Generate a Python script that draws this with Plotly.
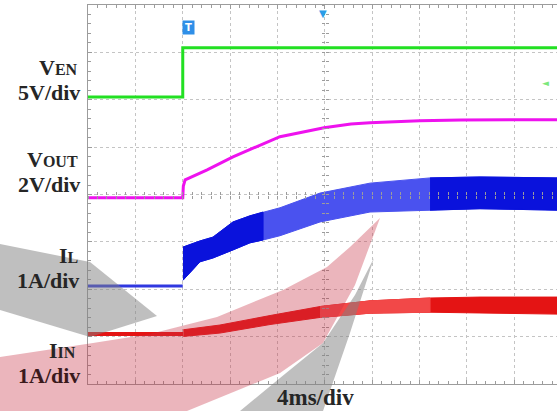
import plotly.graph_objects as go

# ---------------- data (time in ms, values in V / A) ----------------
VEN_SCALE, VEN_OFFSET = 5.0, 6.06      # V/div, screen position of 0 V (div)
VOUT_SCALE, VOUT_OFFSET = 2.0, 3.93
IL_SCALE, IL_OFFSET = 1.0, 2.07
IIN_SCALE, IIN_OFFSET = 1.0, 1.055

t_ven = [0, 8.0, 8.0, 39.6]
ven = [0, 0, 5.2, 5.2]

t_vout = [0, 8.0, 8.05, 8.2, 10.06, 12.24, 16.21, 17.9, 19.93, 22.2, 23.81, 28.0, 31.5, 39.6]
vout = [0, 0, 0.5, 0.76, 1.18, 1.73, 2.58, 2.74, 2.96, 3.12, 3.17, 3.25, 3.29, 3.30]

t_il_pre = [0, 8.0]
il_pre = [0, 0]
t_il = [8.02, 9.46, 10.55, 12.24, 13.68, 14.78, 16.21, 19.59, 23.81, 28.88, 33.10, 39.6]
il_top = [0.82, 0.95, 1.03, 1.35, 1.48, 1.56, 1.65, 1.96, 2.17, 2.28, 2.30, 2.28]
il_bot = [0.12, 0.51, 0.59, 0.76, 0.91, 0.97, 1.06, 1.35, 1.56, 1.60, 1.63, 1.60]
IL_DARK_ZONES = [(8.0, 14.78), (28.88, 39.6)]

t_iin_pre = [0, 8.05]
iin_pre = [0, 0]
t_iin = [8.05, 11.14, 15.37, 19.59, 23.81, 28.88, 33.10, 39.6]
iin_top = [0.09, 0.19, 0.39, 0.58, 0.70, 0.76, 0.78, 0.78]
iin_bot = [-0.05, 0.02, 0.20, 0.35, 0.44, 0.46, 0.44, 0.42]
IIN_LIGHT_ZONE = (19.59, 28.88)

T_END = 39.6
N_DIV_Y = 8

# ---------------- helpers ----------------
W, H = 557, 411
ML, MR, MT, MB = 88, 0, 5, 27
PW, PH = W - ML - MR, H - MT - MB


def pp(x, y):
    """pixel -> paper coordinates"""
    return (x - ML) / PW, (H - MB - y) / PH


def scr(vals, scale, offset):
    return [v / scale + offset for v in vals]


def band(t, top, bot, scale, offset, color, name):
    xs = list(t) + list(t)[::-1]
    ys = scr(top, scale, offset) + scr(bot, scale, offset)[::-1]
    return go.Scatter(x=xs, y=ys, mode="lines", fill="toself", fillcolor=color,
                      line=dict(color=color, width=1), hoverinfo="skip", name=name,
                      showlegend=False)


def zone(t, top, bot, lo, hi):
    idx = [i for i, tt in enumerate(t) if lo - 1e-9 <= tt <= hi + 1e-9]
    return [t[i] for i in idx], [top[i] for i in idx], [bot[i] for i in idx]


fig = go.Figure()

GREEN = "#22e022"
MAGENTA = "#ee12ee"
BLUE_L = "#4a52ef"
BLUE_D = "#0a12dc"
RED_D = "#e41414"
RED_L = "#f24848"

# V_EN
fig.add_trace(go.Scatter(x=t_ven, y=scr(ven, VEN_SCALE, VEN_OFFSET), mode="lines",
                         line=dict(color=GREEN, width=3), showlegend=False))
# V_OUT
fig.add_trace(go.Scatter(x=t_vout, y=scr(vout, VOUT_SCALE, VOUT_OFFSET), mode="lines",
                         line=dict(color=MAGENTA, width=3), showlegend=False))
# I_L
fig.add_trace(go.Scatter(x=t_il_pre, y=scr(il_pre, IL_SCALE, IL_OFFSET), mode="lines",
                         line=dict(color="#3038e0", width=3), showlegend=False))
fig.add_trace(band(t_il, il_top, il_bot, IL_SCALE, IL_OFFSET, BLUE_L, "IL"))
for lo, hi in IL_DARK_ZONES:
    zt, ztop, zbot = zone(t_il, il_top, il_bot, lo, hi)
    fig.add_trace(band(zt, ztop, zbot, IL_SCALE, IL_OFFSET, BLUE_D, "IL"))
# I_IN
fig.add_trace(go.Scatter(x=t_iin_pre, y=scr(iin_pre, IIN_SCALE, IIN_OFFSET), mode="lines",
                         line=dict(color=RED_D, width=4), showlegend=False))
fig.add_trace(band(t_iin, iin_top, iin_bot, IIN_SCALE, IIN_OFFSET, RED_D, "IIN"))
zt, ztop, zbot = zone(t_iin, iin_top, iin_bot, *IIN_LIGHT_ZONE)
fig.add_trace(band(zt, ztop, zbot, IIN_SCALE, IIN_OFFSET, RED_L, "IIN"))

# invisible traces for centre cross-hair tick axes
for k in (2, 3):
    fig.add_trace(go.Scatter(x=[None], y=[None], xaxis=f"x{k}", yaxis=f"y{k}",
                             showlegend=False, hoverinfo="skip"))

GRID = "#c4c4c4"
LINE = "#9c9c9c"
axis_common = dict(showticklabels=False, zeroline=False, fixedrange=True)

fig.update_layout(
    width=W, height=H, margin=dict(l=ML, r=MR, t=MT, b=MB),
    paper_bgcolor="white", plot_bgcolor="white", showlegend=False,
    xaxis=dict(range=[0, T_END], dtick=4, tick0=0, showgrid=True, gridcolor=GRID,
               griddash="dot", gridwidth=1, showline=True, linecolor=LINE, linewidth=1,
               mirror="allticks", ticks="inside", ticklen=4, tickcolor=LINE,
               minor=dict(dtick=0.8, tick0=0, ticks="inside", ticklen=3, tickcolor=LINE,
                          showgrid=False), **axis_common),
    yaxis=dict(range=[0, N_DIV_Y], dtick=1, tick0=0, showgrid=True, gridcolor=GRID,
               griddash="dot", gridwidth=1, showline=True, linecolor=LINE, linewidth=1,
               ticks="inside", ticklen=4, tickcolor=LINE,
               minor=dict(dtick=0.2, tick0=0, ticks="inside", ticklen=3, tickcolor=LINE,
                          showgrid=False), **axis_common),
    xaxis2=dict(overlaying="x", matches="x", anchor="free", position=0.5, showgrid=False,
                showline=False, ticks="outside", ticklen=3, tickcolor=LINE, dtick=0.8,
                tick0=0, **axis_common),
    xaxis3=dict(overlaying="x", matches="x", anchor="free", position=0.5, showgrid=False,
                showline=False, ticks="inside", ticklen=3, tickcolor=LINE, dtick=0.8,
                tick0=0, **axis_common),
    yaxis2=dict(overlaying="y", matches="y", anchor="free", position=20 / T_END,
                showgrid=False, showline=False, ticks="outside", ticklen=3, tickcolor=LINE,
                dtick=0.2, tick0=0, **axis_common),
    yaxis3=dict(overlaying="y", matches="y", anchor="free", position=20 / T_END,
                showgrid=False, showline=False, ticks="inside", ticklen=3, tickcolor=LINE,
                dtick=0.2, tick0=0, **axis_common),
)

# ---------------- watermark (semi-transparent logo swooshes) ----------------
def poly_path(pts):
    cs = [pp(x, y) for x, y in pts]
    return "M " + " L ".join(f"{a:.4f},{b:.4f}" for a, b in cs) + " Z"


PINK = "rgba(200,50,70,0.36)"
GREY = "rgba(128,128,128,0.50)"
wm = [
    ([(0, 244), (90, 262), (157, 316), (90, 337), (0, 310)], GREY),
    ([(0, 357), (93, 343), (150, 334), (217, 317), (283, 290), (327, 267), (350, 247),
      (380, 218), (355, 285), (323, 343), (280, 373), (187, 411), (0, 411)], PINK),
    ([(374, 258), (350, 333), (323, 411), (240, 411), (280, 378), (323, 343), (355, 295)], GREY),
]
for pts, col in wm:
    fig.add_shape(type="path", path=poly_path(pts), xref="paper", yref="paper",
                  fillcolor=col, line=dict(width=0), layer="above")

# ---------------- labels ----------------
FONT = "Liberation Serif, Times New Roman, serif"
TXT = "#262626"
SUBS = "font-size:16px"


def label(text, x_right, baseline, size=22, color=TXT, anchor="right"):
    x, y = pp(x_right, baseline - 0.33 * size)
    fig.add_annotation(text=text, x=x, y=y, xref="paper", yref="paper", showarrow=False,
                       xanchor=anchor, yanchor="middle",
                       font=dict(family=FONT, size=size, color=color))


label(f"<b>V<span style='{SUBS}'>EN</span></b>", 80, 75)
label("<b>5V/div</b>", 82, 100)
label(f"<b>V<span style='{SUBS}'>OUT</span></b>", 80, 167)
label("<b>2V/div</b>", 82, 192)
label(f"<b>I<span style='{SUBS}'>L</span></b>", 80, 263)
label("<b>1A/div</b>", 81, 288)
label(f"<b>I<span style='{SUBS}'>IN</span></b>", 78, 358)
label("<b>1A/div</b>", 82, 383, color="#3a1a1c")
label("<b>4ms/div</b>", 315, 405, size=23, anchor="center")

# trigger markers
tx, ty = pp(181.5, 19.5)
fig.add_annotation(text="<b>T</b>", x=tx, y=ty, xref="paper", yref="paper", showarrow=False,
                   font=dict(family="DejaVu Sans", size=10, color="white"),
                   bgcolor="#2f8fe8", width=9, height=11, borderpad=1)
mx, my = pp(323, 6)
fig.add_annotation(text="▼", x=mx, y=my, xref="paper", yref="paper", showarrow=False,
                   font=dict(family="DejaVu Sans", size=10, color="#2b9de8"))
gx, gy = pp(551, 76)
fig.add_annotation(text="◄", x=gx, y=gy, xref="paper", yref="paper", showarrow=False,
                   font=dict(family="DejaVu Sans", size=9, color="#7ce87c"))

fig.write_html("out.html")
